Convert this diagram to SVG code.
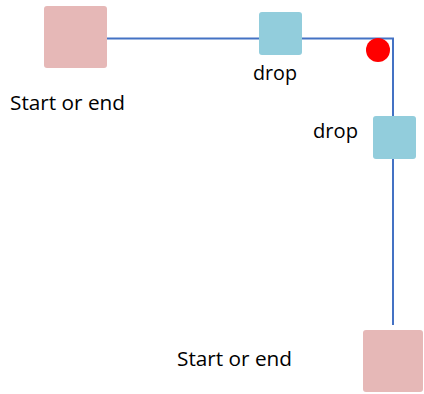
<svg xmlns="http://www.w3.org/2000/svg" width="424" height="394" viewBox="0 0 424 394">
<style>
.se{fill:#E6B8B7}
.dr{fill:#92CDDC}
.lbl{font-family:"Open Sans","Liberation Sans",Arial,sans-serif;font-size:19.5px;fill:#000}
.ln{stroke:#4472C4;stroke-width:2;fill:none}
</style>
<rect width="424" height="394" fill="#fff"/>
<g id="connectors">
<polyline class="ln" points="107,38.5 393,38.5 393,325"/>
</g>
<g id="start1">
<rect class="se" x="44" y="6" width="63" height="62" rx="3"/>
<text class="lbl" x="10" y="110" textLength="115" lengthAdjust="spacingAndGlyphs">Start or end</text>
</g>
<g id="drop1">
<rect class="dr" x="259" y="12" width="43" height="43" rx="3"/>
<text class="lbl" x="253" y="80" textLength="44" lengthAdjust="spacingAndGlyphs">drop</text>
</g>
<g id="marker">
<circle cx="378" cy="50" r="12" fill="#FF0000"/>
</g>
<g id="drop2">
<rect class="dr" x="373" y="116" width="43" height="43" rx="3"/>
<text class="lbl" x="313" y="138" textLength="45" lengthAdjust="spacingAndGlyphs">drop</text>
</g>
<g id="start2">
<rect class="se" x="363" y="330" width="60" height="62" rx="3"/>
<text class="lbl" x="177" y="366" textLength="115" lengthAdjust="spacingAndGlyphs">Start or end</text>
</g>
</svg>
